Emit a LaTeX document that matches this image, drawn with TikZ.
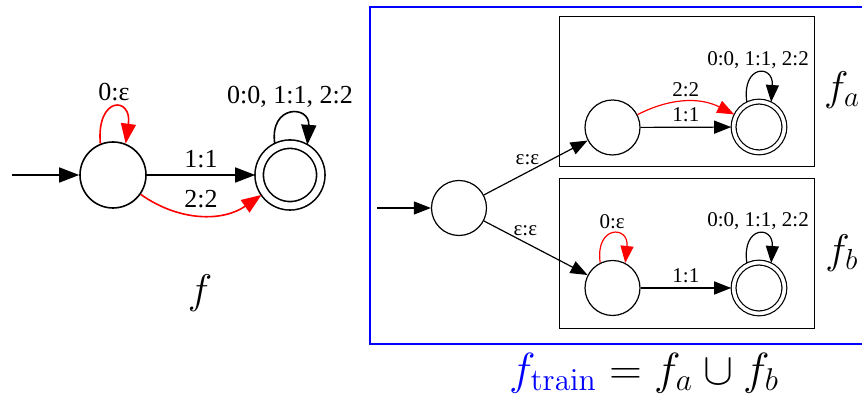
\RequirePackage{fix-cm}
\documentclass[tikz,border=0pt]{standalone}
\usepackage[no-math]{fontspec}
\setmainfont{Liberation Serif}
\usepackage{amsmath, amssymb}
\usetikzlibrary{arrows.meta}

\begin{document}
\begin{tikzpicture}[x=0.5pt, y=0.5pt, >={Triangle[length=10pt,width=7.5pt]},
	state/.style={circle, draw, inner sep=0pt, minimum size=33pt, line width=0.8pt},
	accept/.style={state, double, double distance=3.4pt, minimum size=30.8pt, outer sep=2pt},
	sstate/.style={circle, draw, inner sep=0pt, minimum size=27.5pt, line width=0.6pt},
	saccept/.style={sstate, double, double distance=1.8pt, minimum size=25.4pt, outer sep=1.2pt},
	trans/.style={->, line width=0.8pt},
	strans/.style={->, line width=0.6pt, >={Triangle[length=8.5pt,width=6.5pt]}},
	lbl/.style={font=\fontsize{13}{15}\selectfont},
	slbl/.style={font=\fontsize{10.5}{12}\selectfont},
	mlbl/.style={font=\fontsize{20.7}{25}\selectfont}]
	% -------- Tunables --------
	\def\lp{48}   % loop height (left)
	\def\alp{40}  % loop height (accept states)
	\def\slp{38}  % loop height (right)
	
	\useasboundingbox (0,0) rectangle (862,-399);
	
	% -------- f --------
	\coordinate (fin) at (12,-175);
	\node[state]  (f0) at (113,-175) {};
	\node[accept] (f1) at (290,-175) {};
	\node[mlbl]   (f)  at (200,-293) {$f$};
	
	\draw[trans] (fin) -- (f0);
	\draw[trans] (f0) -- node[lbl, above] {1:1} (f1);
	\draw[trans, red] (f0) to[bend right=35] node[lbl, above, black] {2:2} (f1);
	\draw[trans, red] (f0.112) .. controls +(95:\lp) and +(82:\lp) .. (f0.68)
		node[lbl, pos=0.5, above, black] {0:ε};
	\draw[trans] (f1.116) .. controls +(98:\alp) and +(86:\alp) .. (f1.60)
		node[lbl, pos=0.5, above] {0:0, 1:1, 2:2};
	
	% -------- f_train --------
	\draw[blue, line width=0.8pt] (870,-7) -| (370,-344) -- (870,-344);
	\draw[line width=0.5pt] (559,-17) rectangle (814,-167);
	\draw[line width=0.5pt] (559,-179) rectangle (814,-329);
	
	\coordinate (tin) at (377,-208);
	\node[sstate]  (t0) at (459,-208) {};
	\node[sstate]  (a0) at (612.5,-127.5) {};
	\node[saccept] (a1) at (759,-127) {};
	\node[sstate]  (b0) at (612.5,-288) {};
	\node[saccept] (b1) at (759,-288) {};
	\node[mlbl] (fa) at (842,-90) {$f_a$};
	\node[mlbl] (fb) at (842,-253) {$f_b$};
	\node[font=\fontsize{22.5}{27}\selectfont] (ftrain) at (644,-373)
		{$\textcolor{blue}{f_{\mathrm{train}}} = f_a \cup f_b$};
	
	\draw[strans] (tin) -- (t0);
	\draw[strans] (t0) -- node[slbl, pos=0.42, above] {ε:ε} (a0);
	\draw[strans] (t0) -- node[slbl, pos=0.4, above] {ε:ε} (b0);
	
	% box a
	\draw[strans] (a0) -- node[slbl, above=-1pt] {1:1} (a1);
	\draw[strans, red] (a0) to[bend left=27] node[slbl, above=-1pt, black] {2:2} (a1);
	\draw[strans] (a1.116) .. controls +(98:\slp) and +(86:\slp) .. (a1.64)
		node[slbl, pos=0.5, above=-1pt] {0:0, 1:1, 2:2};
	
	% box b
	\draw[strans] (b0) -- node[slbl, above=-1pt] {1:1} (b1);
	\draw[strans, red] (b0.116) .. controls +(98:\slp) and +(84:\slp) .. (b0.63)
		node[slbl, pos=0.5, above=-1pt, black] {0:ε};
	\draw[strans] (b1.116) .. controls +(98:\slp) and +(86:\slp) .. (b1.64)
		node[slbl, pos=0.5, above=-1pt] {0:0, 1:1, 2:2};
	
\end{tikzpicture}
\end{document}
